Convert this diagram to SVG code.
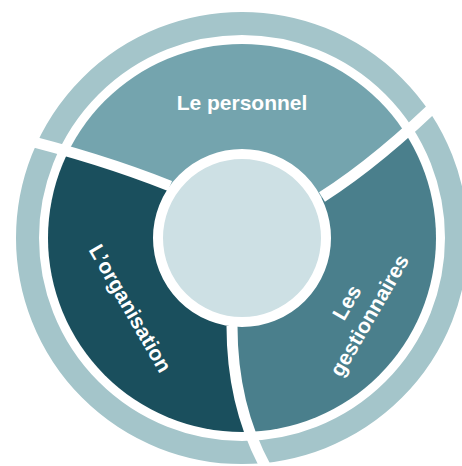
<svg xmlns="http://www.w3.org/2000/svg" width="462" height="466" viewBox="0 0 462 466">
  <style>
    .label { font-family: "Liberation Sans", Arial, sans-serif; font-weight: bold; font-size: 21px; fill: #ffffff; text-anchor: middle; }
    .divider { fill: none; stroke: #ffffff; stroke-width: 11; stroke-linecap: butt; }
  </style>
  <defs>
    <clipPath id="disc">
      <circle cx="242" cy="238" r="194"/>
    </clipPath>
  </defs>
  <rect width="462" height="466" fill="#ffffff"/>

  <!-- outer ring -->
  <g id="outer-ring">
    <circle cx="242" cy="238" r="214.5" fill="none" stroke="#a4c5ca" stroke-width="23"/>
  </g>

  <!-- three segments of the disc -->
  <g clip-path="url(#disc)">
    <g id="personnel">
      <path d="M242,238 L170,186 Q100,158 10,136 L-50,120 L-50,-50 L520,-50 L520,50 L447,94 Q380,160 322,197 Z" fill="#74a4ae"/>
    </g>
    <g id="gestionnaires">
      <path d="M242,238 L322,197 Q380,160 447,94 L520,50 L520,520 L270,520 L270,475 Q232,410 232,326 Z" fill="#4a7f8c"/>
    </g>
    <g id="organisation">
      <path d="M242,238 L232,326 Q232,410 270,475 L270,520 L-50,520 L-50,120 L10,136 Q100,158 170,186 Z" fill="#1a4f5d"/>
    </g>
  </g>

  <!-- curved white dividers running through the disc and the ring -->
  <g id="connectors">
    <path class="divider" d="M170,186 Q100,158 10,136 L-20,129"/>
    <path class="divider" d="M322,197 Q380,160 447,94 L470,72"/>
    <path class="divider" d="M232,326 Q232,410 270,475"/>
  </g>

  <!-- hub -->
  <g id="centre">
    <circle cx="242" cy="238" r="84" fill="#cde0e4" stroke="#ffffff" stroke-width="10"/>
  </g>

  <!-- labels -->
  <g id="labels">
    <text class="label" x="242" y="110">Le personnel</text>
    <text class="label" transform="translate(124,312) rotate(60)">L’organisation</text>
    <g transform="translate(353,306) rotate(-60)">
      <text class="label" x="0" y="0">Les</text>
      <text class="label" x="0" y="26">gestionnaires</text>
    </g>
  </g>
</svg>
